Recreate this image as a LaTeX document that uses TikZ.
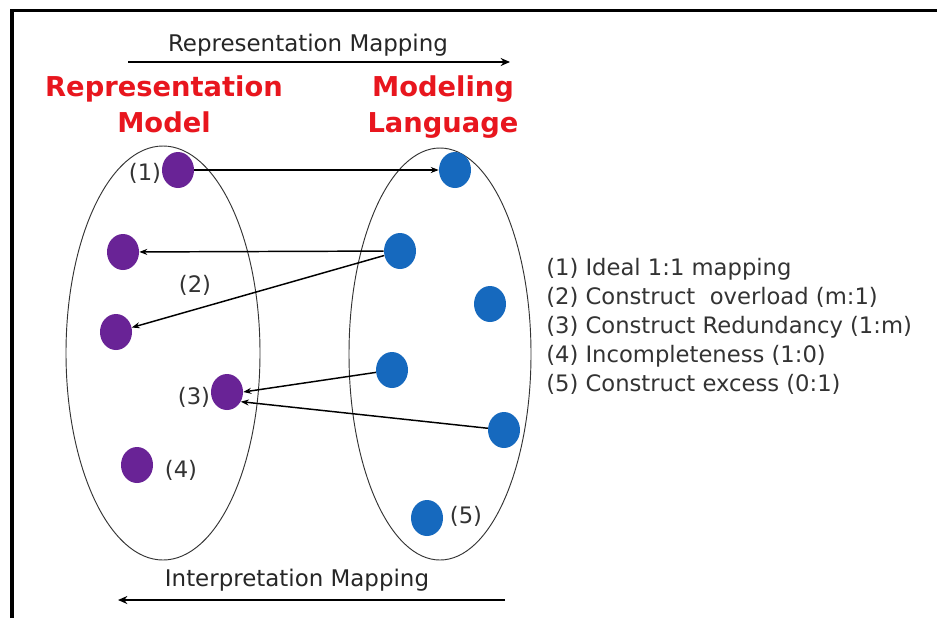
\documentclass[tikz,border=0pt]{standalone}
\usepackage{fontspec}
\setmainfont{DejaVu Sans}
\usetikzlibrary{shapes.geometric,arrows.meta}
\definecolor{redtxt}{RGB}{232,22,30}
\definecolor{purp}{RGB}{105,35,150}
\definecolor{blu}{RGB}{22,105,190}
\tikzset{
  pdot/.style={ellipse,fill=purp,minimum width=24pt,minimum height=27pt,inner sep=0pt},
  bdot/.style={ellipse,fill=blu,minimum width=24pt,minimum height=27pt,inner sep=0pt},
  big/.style={ellipse,draw=black!80,line width=0.7pt,inner sep=0pt},
  arr/.style={line width=1.1pt,-{Stealth[length=6pt,width=4.5pt]}},
  marr/.style={line width=2pt,-{Stealth[length=7pt,width=6pt]}},
  lbl/.style={font=\fontsize{17}{21.75}\selectfont,text=black!80,inner sep=0pt},
  ttl/.style={font=\fontsize{20.5}{25}\selectfont\bfseries,text=redtxt,anchor=base,inner sep=0pt},
  mtxt/.style={font=\fontsize{17.2}{20}\selectfont,text=black!85,inner sep=0pt},
}
\begin{document}
\begin{tikzpicture}[x=0.75pt,y=-0.75pt]
\useasboundingbox (0,0) rectangle (937,618);
\fill[white] (0,0) rectangle (937,618);
% frame
\draw[line width=2.3pt] (12,618) -- (12,10.5) -- (937,10.5);
% mapping arrows
\coordinate (ta1) at (128,62);
\coordinate (ta2) at (510,62);
\draw[marr] (ta1) -- (ta2);
\node[mtxt] (tmap) at (308,45) {Representation Mapping};
\coordinate (ba1) at (505,600);
\coordinate (ba2) at (118,600);
\draw[marr] (ba1) -- (ba2);
\node[mtxt] (bmap) at (297,580) {Interpretation Mapping};
% titles
\node[ttl] (rmt1) at (164,96) {Representation};
\node[ttl] (rmt2) at (164,132) {Model};
\node[ttl] (mlt1) at (443,96) {Modeling};
\node[ttl] (mlt2) at (443,132) {Language};
% big ellipses
\node[big,minimum width=145.5pt,minimum height=310.5pt] (RM) at (163,353) {};
\node[big,minimum width=136.5pt,minimum height=309pt] (ML) at (440,354) {};
% dots
\node[pdot] (P1) at (178,170) {};
\node[pdot] (P2) at (123,252) {};
\node[pdot] (P3) at (116,332) {};
\node[pdot] (P4) at (227,392) {};
\node[pdot] (P5) at (137,465) {};
\node[bdot] (B1) at (455,170) {};
\node[bdot] (B2) at (400,251) {};
\node[bdot] (B3) at (490,304) {};
\node[bdot] (B4) at (392,370) {};
\node[bdot] (B5) at (504,430) {};
\node[bdot] (B6) at (427,518) {};
% arrows
\draw[arr] (P1) -- (B1);
\draw[arr] (B2) -- (P2);
\draw[arr] (B2) -- (P3);
\draw[arr] (B4) -- (P4.east);
\draw[arr] (B5) -- (P4.-35);
% labels
\node[lbl] (l1) at (145,173) {(1)};
\node[lbl] (l2) at (195,285) {(2)};
\node[lbl] (l3) at (194,397) {(3)};
\node[lbl] (l4) at (181,470) {(4)};
\node[lbl] (l5) at (466,516) {(5)};
% legend
\node[lbl,anchor=north west,align=left] (leg) at (546,258) {%
(1) Ideal 1:1 mapping\\
(2) Construct\ \ overload (m:1)\\
(3) Construct Redundancy (1:m)\\
(4) Incompleteness (1:0)\\
(5) Construct excess (0:1)};
\end{tikzpicture}
\end{document}
